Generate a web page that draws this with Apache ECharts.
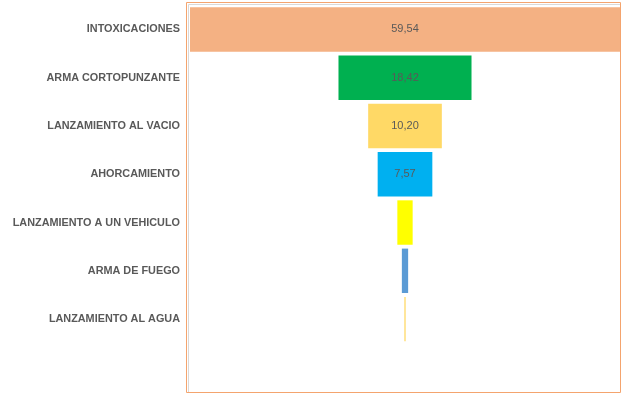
<!DOCTYPE html>
<html>
<head>
<meta charset="utf-8">
<script src="https://cdn.jsdelivr.net/npm/echarts@6/dist/echarts.min.js"></script>
<style>html,body{margin:0;padding:0;background:#fff}#c{width:623px;height:393px}</style>
</head>
<body>
<div id="c"></div>
<script>
const categories = ['INTOXICACIONES','ARMA CORTOPUNZANTE','LANZAMIENTO AL VACIO','AHORCAMIENTO','LANZAMIENTO A UN VEHICULO','ARMA DE FUEGO','LANZAMIENTO AL AGUA'];
const values = [59.54, 18.42, 10.20, 7.57, 2.12, 0.87, 0.18];
const colors = ['#F4B183','#00B050','#FFD966','#00B0F0','#FFFF00','#5B9BD5','#FFD966'];
const labelled = [true, true, true, true, false, false, false];

const maxV = Math.max(...values);
const axisCats = categories.concat(['']);
const chart = echarts.init(document.getElementById('c'), null, {renderer:'canvas'});
chart.setOption({
  animation: false,
  grid: {left: 190, right: 3, top: 5.3, bottom: 1.5, containLabel: false},
  xAxis: {type: 'value', min: 0, max: maxV, show: false},
  yAxis: {
    type: 'category', data: axisCats, inverse: true,
    axisLine: {show: false}, axisTick: {show: false}, splitLine: {show: false},
    axisLabel: {margin: 10, color: '#595959', fontWeight: 'bold', fontSize: 10.85, padding: [2, 0, 0, 0], fontFamily: 'Liberation Sans, Arial, sans-serif'}
  },
  series: [
    {type: 'bar', stack: 'f', silent: true, barCategoryGap: '8%',
     itemStyle: {color: 'transparent'},
     data: values.map(v => (maxV - v) / 2)},
    {type: 'bar', stack: 'f', barCategoryGap: '8%',
     data: values.map((v, i) => ({
       value: v,
       itemStyle: {color: colors[i]},
       label: {show: labelled[i], position: 'inside', color: '#595959', fontSize: 11,
               padding: [2, 0, 0, 0],
               fontFamily: 'Liberation Sans, Arial, sans-serif',
               formatter: p => p.value.toFixed(2).replace('.', ',')}
     }))}
  ],
  graphic: [
    {type: 'rect', shape: {x: 186.5, y: 2.5, width: 434, height: 390}, style: {fill: 'none', stroke: '#F4A46E', lineWidth: 1}, silent: true},
    {type: 'polyline', shape: {points: [[188.5, 392], [188.5, 4.5], [620, 4.5]]}, style: {fill: 'none', stroke: '#D9D9D9', lineWidth: 1}, silent: true}
  ]
});
</script>
</body>
</html>
